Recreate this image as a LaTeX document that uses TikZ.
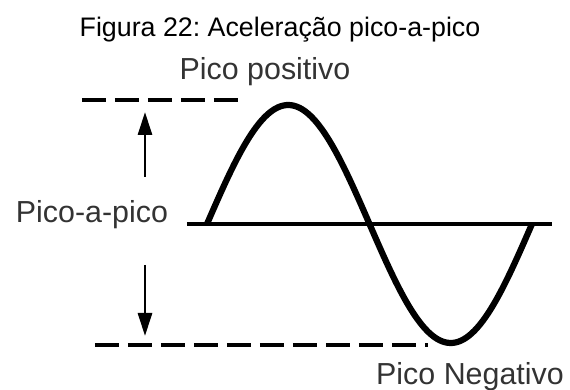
\documentclass[tikz,border=0pt]{standalone}
\usepackage{fontspec}
\setmainfont{Liberation Sans}
\usetikzlibrary{arrows.meta,positioning}
\definecolor{inkgray}{HTML}{333333}
\frenchspacing

\begin{document}
\begin{tikzpicture}[x=0.5pt, y=-0.5pt,
    heading/.style={font=\fontsize{13.4}{16}\selectfont, anchor=base, inner sep=0pt},
    peaktext/.style={font=\fontsize{15.2}{18}\selectfont, text=inkgray, anchor=base, inner sep=0pt},
    wave/.style={line width=3.1pt, line join=round},
    axis/.style={line width=1.8pt},
    guide/.style={line width=1.8pt, dash pattern=on 12pt off 4.5pt},
    line/.style={-{Triangle[length=11.5pt,width=7pt]}, line width=1.4pt}
  ]
    \useasboundingbox (0,0) rectangle (570,390);

    \node[heading] (title) at (280,37) {Figura 22: Aceleração pico-a-pico};
    \node[peaktext] (pos) at (265,80) {Pico positivo};
    \node[peaktext] (pp) at (92,223) {Pico-a-pico};
    \node[peaktext] (neg) at (470,385) {Pico Negativo};

    \coordinate (topL) at (82,100);
    \coordinate (topR) at (238,100);
    \coordinate (botL) at (95,345);
    \coordinate (botR) at (428,345);
    \coordinate (axL) at (187,224);
    \coordinate (axR) at (552,224);
    \coordinate (upS) at (145,177);
    \coordinate (upE) at (145,112);
    \coordinate (dnS) at (145,265);
    \coordinate (dnE) at (145,336);

    \draw[axis] (axL) -- (axR);
    \draw[guide] (topL) -- (topR);
    \draw[guide] (botL) -- (botR);
    \draw[line] (upS) -- (upE);
    \draw[line] (dnS) -- (dnE);
    \draw[wave] plot[domain=0:360, samples=120] ({207+(\x/360)*325}, {224-119*sin(\x)});
  \end{tikzpicture}
\end{document}
